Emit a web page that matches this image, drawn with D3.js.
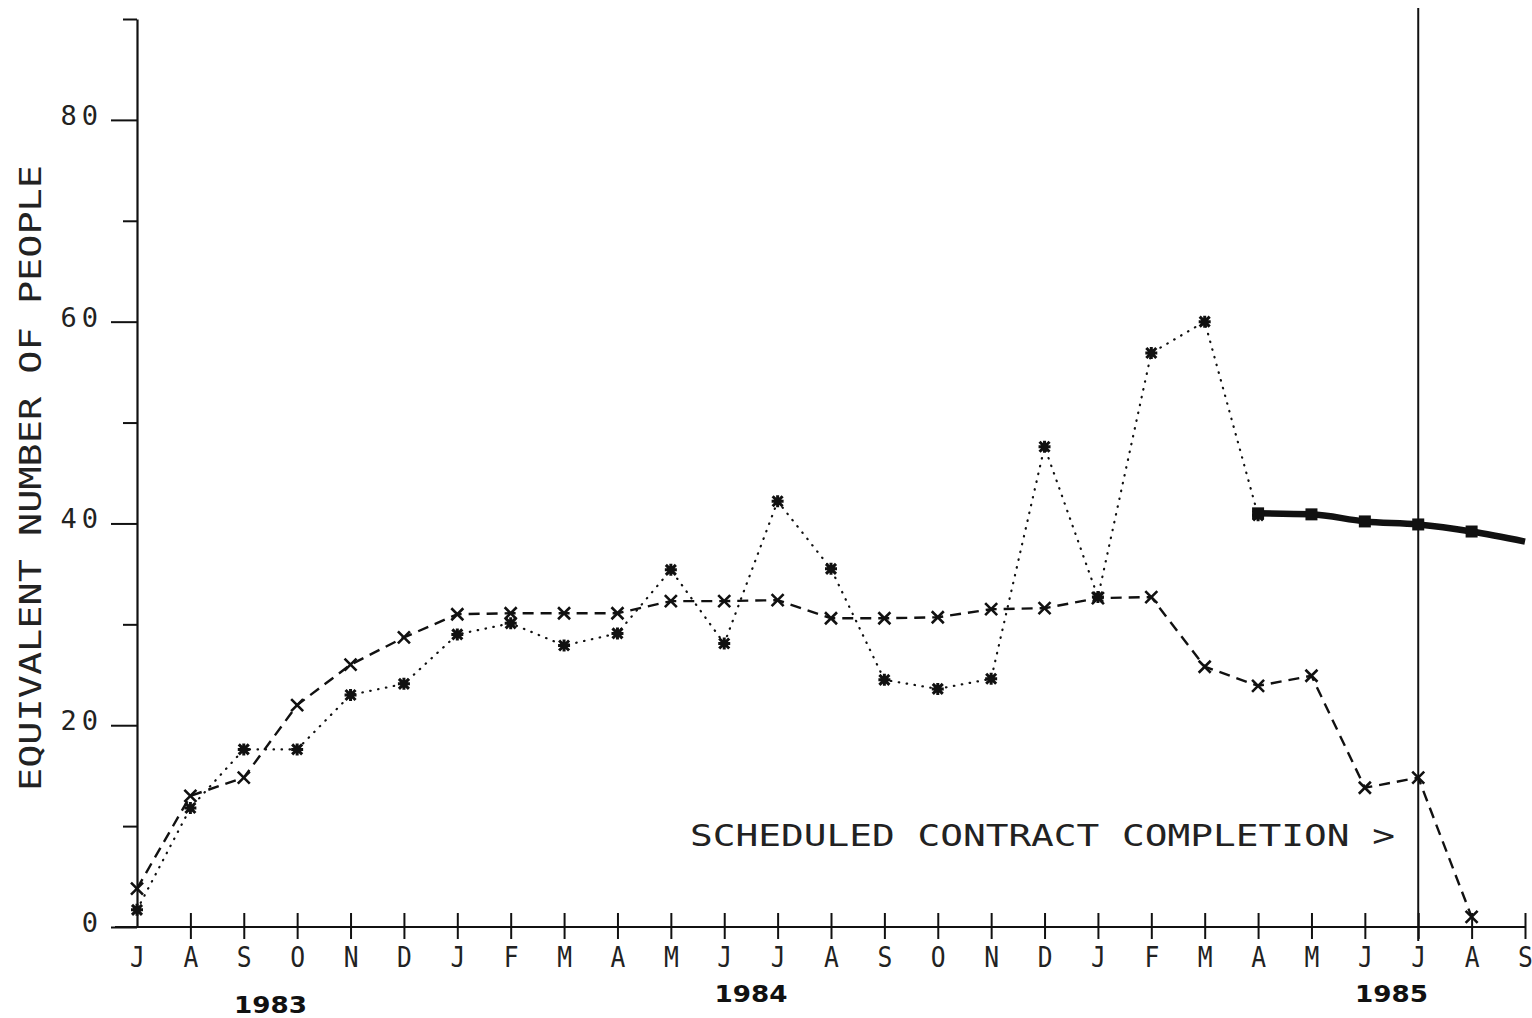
<!DOCTYPE html>
<html>
<head>
<meta charset="utf-8">
<script src="https://cdn.jsdelivr.net/npm/d3@7"></script>
<style>
  html, body { margin: 0; padding: 0; background: #fff; }
  svg { display: block; }
</style>
</head>
<body>
<svg id="chart" width="1532" height="1018"></svg>
<script>
// ---- Data ----
const months = ["J","A","S","O","N","D","J","F","M","A","M","J","J","A","S","O","N","D","J","F","M","A","M","J","J","A","S"];
const years = [
  { label: "1983", at: 2.5, row: 1 },
  { label: "1984", at: 11.5, row: 0 },
  { label: "1985", at: 23.5, row: 0 }
];
const yTicks = [0,10,20,30,40,50,60,70,80,90];
const yTickLabels = [0,20,40,60,80];

// Dashed series with "x" markers (Jul 83 .. Aug 85)
const plannedValues = [3.8, 13, 14.8, 22, 26, 28.7, 31, 31.1, 31.1, 31.1, 32.3, 32.3, 32.4, 30.6, 30.6, 30.7, 31.5, 31.6, 32.6, 32.7, 25.8, 23.9, 24.9, 13.8, 14.8, 1];
// Dotted series with "*" markers (Jul 83 .. Apr 85)
const actualValues = [1.7, 11.8, 17.6, 17.6, 23, 24.1, 29, 30.1, 27.9, 29.1, 35.4, 28.1, 42.2, 35.5, 24.5, 23.6, 24.6, 47.6, 32.7, 56.9, 60, 40.8];
// Heavy forecast line (Apr 85 .. Sep 85)
const forecastStart = 21;
const forecastValues = [41, 40.9, 40.2, 39.9, 39.2, 38.2];
const forecastMarked = [true, true, true, true, true, false];

const completionIndex = 24;
const completionText = "SCHEDULED CONTRACT COMPLETION >";
const yAxisTitle = "EQUIVALENT NUMBER OF PEOPLE";

// ---- Layout ----
const svg = d3.select("#chart");
const ink = "#111";
const x = d3.scaleLinear().domain([0, months.length - 1]).range([137, 1525]);
const y = d3.scaleLinear().domain([0, 90]).range([927, 19]);

const monoFont = "'DejaVu Sans Mono', 'Liberation Mono', monospace";

// Y axis
const yAxis = d3.axisLeft(y).tickValues(yTicks).tickSize(0).tickFormat("");
const gy = svg.append("g").attr("transform", `translate(${x(0)},0)`).call(yAxis);
gy.select(".domain").attr("stroke", ink).attr("stroke-width", 2.2);
gy.selectAll(".tick").append("line")
  .attr("x1", d => yTickLabels.includes(d) ? -26 : -14)
  .attr("x2", 0).attr("stroke", ink).attr("stroke-width", 2);
gy.selectAll(".tick").filter(d => yTickLabels.includes(d)).append("text")
  .attr("x", -34).attr("y", -5).attr("dy", "0.35em")
  .attr("text-anchor", "end")
  .attr("fill", "#222")
  .style("font-family", monoFont).style("font-size", "27px")
  .style("letter-spacing", "5px")
  .text(d => d);

// X axis line
svg.append("line")
  .attr("x1", x(0) - 22).attr("x2", x(months.length - 1))
  .attr("y1", y(0)).attr("y2", y(0))
  .attr("stroke", ink).attr("stroke-width", 2);

const xAxis = d3.axisBottom(x).tickValues(d3.range(months.length)).tickSize(0).tickFormat("");
const gx = svg.append("g").attr("transform", `translate(0,${y(0)})`).call(xAxis);
gx.select(".domain").remove();
gx.selectAll(".tick").filter(d => d > 0).append("line")
  .attr("y1", -14).attr("y2", 12).attr("stroke", ink).attr("stroke-width", 2);
gx.selectAll(".tick").append("text")
  .attr("y", 40)
  .attr("text-anchor", "middle").attr("fill", "#222")
  .style("font-family", monoFont).style("font-size", "29px")
  .attr("transform", "scale(0.85,1)")
  .attr("x", 0)
  .text((d, i) => months[i]);

// Year labels
svg.selectAll("text.year").data(years).enter().append("text")
  .attr("class", "year")
  .attr("x", d => x(d.at))
  .attr("y", d => d.row === 1 ? 1013 : 1002)
  .attr("text-anchor", "middle").attr("fill", ink)
  .attr("textLength", 73).attr("lengthAdjust", "spacingAndGlyphs")
  .style("font-family", "'DejaVu Sans', 'Liberation Sans', Arial, sans-serif")
  .style("font-size", "23px").style("font-weight", "bold")
  .text(d => d.label);

// Y-axis title
svg.append("text")
  .attr("transform", "translate(30,478) rotate(-90)")
  .attr("text-anchor", "middle").attr("dy", "0.35em")
  .attr("fill", "#222")
  .attr("textLength", 626).attr("lengthAdjust", "spacingAndGlyphs")
  .style("font-family", monoFont).style("font-size", "31px")
  .text(yAxisTitle);

// Completion vertical line
svg.append("line")
  .attr("x1", x(completionIndex)).attr("x2", x(completionIndex))
  .attr("y1", 8).attr("y2", y(0) + 14)
  .attr("stroke", ink).attr("stroke-width", 2);

svg.append("text")
  .attr("x", 690).attr("y", 835).attr("dy", "0.35em")
  .attr("fill", "#222")
  .attr("textLength", 705).attr("lengthAdjust", "spacingAndGlyphs")
  .style("font-family", monoFont).style("font-size", "31px")
  .text(completionText);

// Lines
const line = d3.line().x(d => x(d.i)).y(d => y(d.v));
const planned = plannedValues.map((v, i) => ({ i, v }));
const actual = actualValues.map((v, i) => ({ i, v }));
const forecast = forecastValues.map((v, k) => ({ i: forecastStart + k, v, m: forecastMarked[k] }));

svg.append("path").datum(planned).attr("d", line)
  .attr("fill", "none").attr("stroke", ink).attr("stroke-width", 2.4)
  .attr("stroke-dasharray", "11,7");

svg.append("path").datum(actual).attr("d", line)
  .attr("fill", "none").attr("stroke", ink).attr("stroke-width", 2.2)
  .attr("stroke-linecap", "round")
  .attr("stroke-dasharray", "0.5,7.5");

svg.append("path").datum(forecast)
  .attr("d", d3.line().x(d => x(d.i)).y(d => y(d.v)).curve(d3.curveMonotoneX))
  .attr("fill", "none").attr("stroke", ink).attr("stroke-width", 6.5);

// Markers
const xMark = "M-6,-6L6,6M-6,6L6,-6";
const starMark = "M-5,-5L5,5M-5,5L5,-5M0,-6L0,6M-6,0L6,0";

svg.selectAll("path.xm").data(planned).enter().append("path")
  .attr("class", "xm")
  .attr("transform", d => `translate(${x(d.i)},${y(d.v)})`)
  .attr("d", xMark).attr("stroke", ink).attr("stroke-width", 2.6).attr("fill", "none");

svg.selectAll("path.sm").data(actual).enter().append("path")
  .attr("class", "sm")
  .attr("transform", d => `translate(${x(d.i)},${y(d.v)})`)
  .attr("d", starMark).attr("stroke", ink).attr("stroke-width", 3).attr("fill", "none");

svg.selectAll("rect.fm").data(forecast.filter(d => d.m)).enter().append("rect")
  .attr("class", "fm")
  .attr("x", d => x(d.i) - 6).attr("y", d => y(d.v) - 6)
  .attr("width", 12).attr("height", 12).attr("fill", ink);
</script>
</body>
</html>
